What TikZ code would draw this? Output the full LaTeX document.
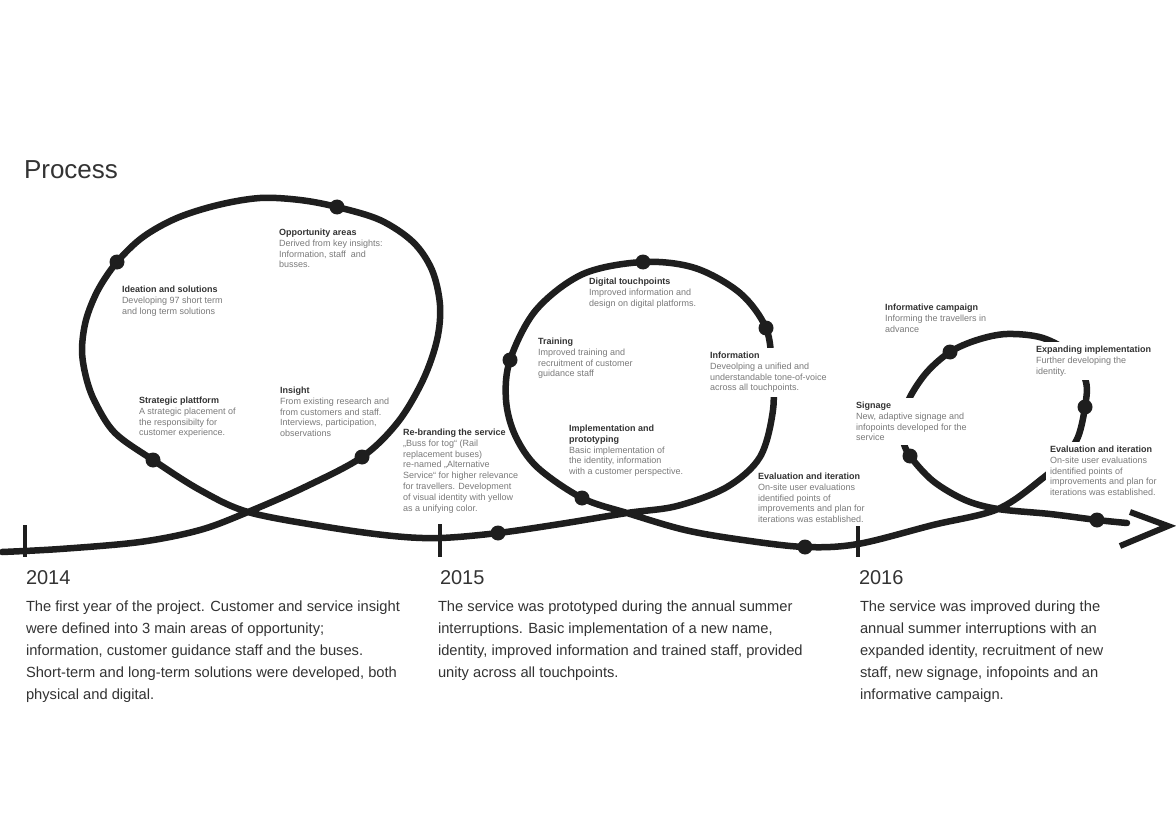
\documentclass[tikz,border=0pt]{standalone}
\usepackage{fontspec}
\setmainfont{Liberation Sans}
\definecolor{ink}{HTML}{1E1E1E}
\definecolor{textdark}{HTML}{333333}
\definecolor{textgray}{HTML}{7A7A7A}
\newcommand{\notehead}[1]{\textcolor{textdark}{\bfseries #1}}

\begin{document}
\begin{tikzpicture}[x=1pt,y=-1pt,every node/.style={inner sep=0pt,outer sep=0pt,anchor=north west,align=left},note/.style={font=\fontsize{9}{10.8}\selectfont,text=textgray},cut/.style={note,fill=white,inner sep=4pt},year/.style={font=\fontsize{20}{24}\selectfont,text=textdark},para/.style={font=\fontsize{14.7}{22}\selectfont,text=textdark},track/.style={ink,line width=6.5pt,line cap=round,line join=round},tick/.style={ink,line width=3.5pt},dot/.style={ink}]
\fill[white] (0,0) rectangle (1176,832);\useasboundingbox (0,0) rectangle (1176,832);
\node[font=\fontsize{26}{32}\selectfont,text=textdark] (title) at (24,161){Process};
% stations on the track
\coordinate (ideat) at (117,262);\coordinate (oppor) at (337,207);\coordinate (strat) at (153,460);\coordinate (insig) at (362,457);\coordinate (rebr) at (498,533);
\coordinate (train) at (510,360);\coordinate (digit) at (643,262);\coordinate (infor) at (766,328);\coordinate (impl) at (582,498);\coordinate (evalA) at (805,547);
\coordinate (campa) at (950,352);\coordinate (expan) at (1085,407);\coordinate (signa) at (910,456);\coordinate (evalB) at (1097,520);
\draw[track] plot[smooth,tension=.55] coordinates {(2,552) (60,549) (140,542) (200,530) (248,512) (305,487) (insig) (398,422) (423,380) (437,340) (440,305) (432,270) (413,242) (380,220) (oppor) (300,200) (260,198) (218,205) (177,218) (143,237) (ideat) (98,290) (86,320) (82,350) (86,377) (95,402) (115,433) (strat) (200,490) (248,512) (327,527) (393,536) (440,538) (rebr) (560,524) (627,513) (677,506) (727,487) (760,457) (773,410) (772,368) (infor) (740,293) (695,268) (digit) (583,274) (536,310) (train) (506,400) (515,435) (537,467) (impl) (627,513) (685,530) (743,540) (evalA) (858,544) (933,525) (998,509) (1043,478) (1064,458) (1078,437) (expan) (1086,382) (1072,355) (1043,338) (1007,334) (977,340) (campa) (927,372) (910,397) (902,420) (903,440) (signa) (933,481) (965,500) (998,509) (1050,514) (evalB) (1127,523)};
\draw[ink,line width=6pt,line join=miter] (1130,512)--(1168,526)--(1120,546);
\foreach \s in {ideat,oppor,strat,insig,rebr,train,digit,infor,impl,evalA,campa,expan,signa,evalB}{\fill[dot] (\s) circle (7.5);}
\draw[tick] (25,525)--(25,557);\draw[tick] (440,524)--(440,557);\draw[tick] (858,526)--(858,557);
% notes
\node[note] (opporT) at (279,229){\notehead{Opportunity areas}\\Derived from key insights:\\Information, staff\ \ and\\busses.};
\node[note] (ideatT) at (122,286){\notehead{Ideation and solutions}\\Developing 97 short term\\and long term solutions};
\node[note] (stratT) at (139,397){\notehead{Strategic plattform}\\A strategic placement of\\the responsibilty for\\customer experience.};
\node[note] (insigT) at (280,387){\notehead{Insight}\\From existing research and\\from customers and staff.\\Interviews, participation,\\observations};
\node[note] (rebrT) at (403,429){\notehead{Re-branding the service}\\„Buss for tog“ (Rail\\replacement buses)\\re-named „Alternative\\Service“ for higher relevance\\for travellers. Development\\of visual identity with yellow\\as a unifying color.};
\node[note] (digitT) at (589,278){\notehead{Digital touchpoints}\\Improved information and\\design on digital platforms.};
\node[note] (trainT) at (538,338){\notehead{Training}\\Improved training and\\recruitment of customer\\guidance staff};
\node[cut] (inforT) at (706,348){\notehead{Information}\\Deveolping a unified and\\understandable tone-of-voice\\across all touchpoints.};
\node[note] (implT) at (569,425){\notehead{Implementation and}\\\notehead{prototyping}\\Basic implementation of\\the identity, information\\with a customer perspective.};
\node[note] (evalAT) at (758,473){\notehead{Evaluation and iteration}\\On-site user evaluations\\identified points of\\improvements and plan for\\iterations was established.};
\node[note] (campaT) at (885,304){\notehead{Informative campaign}\\Informing the travellers in\\advance};
\node[cut] (expanT) at (1032,342){\notehead{Expanding implementation}\\Further developing the\\identity.};
\node[cut] (signaT) at (852,398){\notehead{Signage}\\New, adaptive signage and\\infopoints developed for the\\service};
\node[cut] (evalBT) at (1046,442){\notehead{Evaluation and iteration}\\On-site user evaluations\\identified points of\\improvements and plan for\\iterations was established.};
% years
\node[year] (y14) at (26,571){2014};\node[year] (y15) at (440,571){2015};\node[year] (y16) at (859,571){2016};
\node[para] (p14) at (26,601){The first year of the project. Customer and service insight\\were defined into 3 main areas of opportunity;\\information, customer guidance staff and the buses.\\Short-term and long-term solutions were developed, both\\physical and digital.};
\node[para] (p15) at (438,601){The service was prototyped during the annual summer\\interruptions. Basic implementation of a new name,\\identity, improved information and trained staff, provided\\unity across all touchpoints.};
\node[para] (p16) at (860,601){The service was improved during the\\annual summer interruptions with an\\expanded identity, recruitment of new\\staff, new signage, infopoints and an\\informative campaign.};
\end{tikzpicture}
\end{document}
